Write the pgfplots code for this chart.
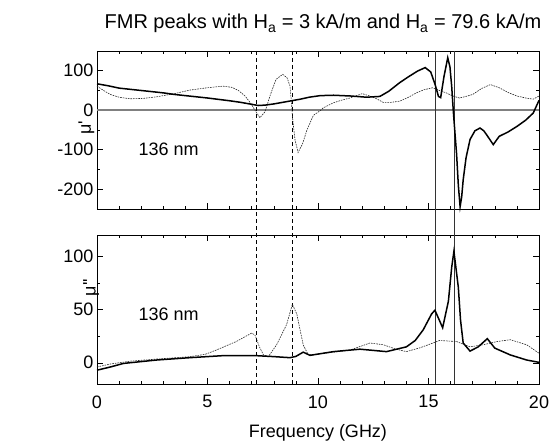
\documentclass[border=0pt]{standalone}
\usepackage{fontspec}
\setmainfont{Liberation Sans}
\usepackage{pgfplots}
\pgfplotsset{compat=1.18}

\pgfplotsset{
  fmr/.style={
    scale only axis, width=442pt,
    xmin=0, xmax=20,
    xtick={0,5,...,20}, minor x tick num=4,
    tick align=inside, major tick length=6pt, minor tick length=3pt,
    tick style={black, line width=0.5pt},
    axis line style={line width=0.6pt},
    ticklabel style={font=\fontsize{18}{21}\selectfont},
    label style={font=\fontsize{18}{21}\selectfont},
    /pgf/number format/assume math mode=true,
    clip=false,
  },
  low/.style={black, line width=1.5pt},
  high/.style={black!85, line width=0.6pt, dash pattern=on 1.6pt off 1pt},
}

\begin{document}
\begin{tikzpicture}[x=1pt,y=1pt]
\useasboundingbox (0,0) rectangle (554,444);

\node[anchor=base, font=\fontsize{20}{24}\selectfont] at (323,415)
  {FMR peaks with H\textsubscript{a} = 3 kA/m and H\textsubscript{a} = 79.6 kA/m};

% upper panel: mu'
\begin{axis}[fmr,
  at={(97pt,235pt)}, anchor=south west, height=158pt,
  ymin=-250, ymax=150,
  ytick={-200,-100,0,100}, minor y tick num=1,
  xticklabels={},
  ylabel={μ\textquotesingle},
  ylabel style={at={(axis description cs:-0.024,0.515)}, anchor=center},
]
\draw[gray, line width=1.5pt] (axis cs:0,0) -- (axis cs:20,0);
\draw[black, line width=0.6pt, dash pattern=on 4pt off 3pt] (axis cs:7.2,150) -- (axis cs:7.2,-320);
\draw[black, line width=0.6pt, dash pattern=on 4pt off 3pt] (axis cs:8.85,150) -- (axis cs:8.85,-320);
\draw[black!80, line width=0.5pt] (axis cs:15.3,150) -- (axis cs:15.3,-320);
\draw[black!80, line width=0.5pt] (axis cs:16.15,150) -- (axis cs:16.15,-320);

\addplot[high] coordinates {
 (0,61) (0.3,50) (0.6,40) (1.0,33) (1.5,29) (2.1,30) (2.7,34) (3.5,42) (4.2,51)
 (5.0,57) (5.7,61) (6.1,58) (6.4,50) (6.7,36) (6.95,18) (7.15,0) (7.37,-19)
 (7.6,-4) (7.85,40) (8.1,78) (8.4,91) (8.6,82) (8.73,62) (8.8,20) (8.85,-20)
 (8.96,-75) (9.1,-107) (9.3,-85) (9.5,-50) (9.79,-13) (10.1,-1) (10.24,6)
 (10.7,19) (11.1,26) (11.45,31) (12.0,42) (12.35,36) (12.65,29) (12.95,20)
 (13.3,20) (13.7,23) (14.1,33) (14.45,44) (14.8,52) (15.2,57) (15.5,50)
 (15.8,44) (16.1,36) (16.4,31) (16.7,35) (17.0,40) (17.4,55) (17.8,65)
 (18.2,57) (18.6,45) (19.0,36) (19.4,31) (19.74,28) (20,36)
};
\addplot[low] coordinates {
 (0,67) (0.5,62) (1,56) (2,50) (3,44) (3.5,40) (4,37) (5,31) (6,24) (6.5,20)
 (7,15) (7.3,12) (7.6,13) (8,16) (8.7,23) (9.2,28) (9.6,33) (10.1,37)
 (10.7,38) (11.5,36) (12.2,33) (12.8,35) (13.2,48) (13.7,70) (14.1,85)
 (14.5,99) (14.85,108) (15.1,97) (15.3,65) (15.45,35) (15.55,32) (15.7,85)
 (15.87,133) (15.97,110) (16.05,60) (16.12,0) (16.2,-60) (16.27,-110)
 (16.35,-190) (16.43,-244) (16.5,-220) (16.57,-176) (16.7,-120) (16.88,-74)
 (17.1,-52) (17.33,-45) (17.5,-52) (17.63,-62) (17.93,-87) (18.2,-66)
 (18.6,-55) (19,-41) (19.4,-25) (19.74,-7) (20,25)
};
\node[anchor=west, font=\fontsize{18}{21}\selectfont] at (axis cs:1.72,-100) {136 nm};
\end{axis}

% lower panel: mu''
\begin{axis}[fmr,
  at={(97pt,60pt)}, anchor=south west, height=148.6pt,
  ymin=-20, ymax=120,
  ytick={0,50,100}, minor y tick num=1,
  xticklabel style={yshift=-8pt},
  xlabel={Frequency (GHz)},
  xlabel style={at={(axis description cs:0.5,-0.33)}, anchor=center},
  ylabel={μ\textquotesingle\textquotesingle},
  ylabel style={at={(axis description cs:-0.013,0.65)}, anchor=center},
]
\draw[black, line width=0.6pt, dash pattern=on 4pt off 3pt] (axis cs:7.2,-20) -- (axis cs:7.2,120);
\draw[black, line width=0.6pt, dash pattern=on 4pt off 3pt] (axis cs:8.85,-20) -- (axis cs:8.85,120);
\draw[black!80, line width=0.5pt] (axis cs:15.3,-20) -- (axis cs:15.3,120);
\draw[black!80, line width=0.5pt] (axis cs:16.15,-20) -- (axis cs:16.15,120);

\addplot[high] coordinates {
 (0,-4) (0.6,-1.2) (1.5,1.5) (2.7,3.5) (4.2,5.7) (4.9,8) (5.4,12) (6.3,20)
 (7.0,28) (7.15,26) (7.35,15) (7.53,7.4) (7.75,5.7) (8.13,17) (8.58,36)
 (8.84,55) (9.04,46) (9.2,30) (9.33,17) (9.56,7.4) (10.1,8.5) (10.7,10)
 (11.45,12) (12.35,18.6) (12.95,17) (13.5,13) (14.0,10.5) (14.6,14)
 (15.2,18.6) (15.5,21) (16.27,20) (16.88,15) (17.48,17) (18.1,20)
 (18.7,21.7) (19.44,17) (20,9)
};
\addplot[low] coordinates {
 (0,-7) (0.6,-4) (1.2,-0.6) (2.7,2.6) (4.2,4.8) (5.7,6.7) (7.2,6.7) (8.0,5.8)
 (8.73,4.8) (9.0,6) (9.33,10) (9.64,7) (10.7,10.5) (11.9,12.8) (13.1,10.5)
 (14.0,15) (14.4,21) (14.76,31) (15.14,46) (15.29,49.5) (15.45,42)
 (15.64,33) (15.9,58) (16.05,90) (16.15,105) (16.35,71) (16.45,40)
 (16.57,18.6) (16.88,11) (17.25,15) (17.66,22.7) (18.0,13.8) (18.7,7.4)
 (19.44,2.6) (20,0.4)
};
\node[anchor=west, font=\fontsize{18}{21}\selectfont] at (axis cs:1.72,46) {136 nm};
\end{axis}
\end{tikzpicture}
\end{document}
